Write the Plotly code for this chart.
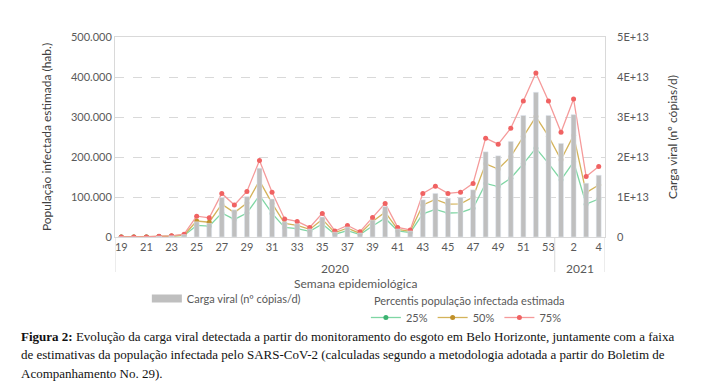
import plotly.graph_objects as go

weeks = [str(w) for w in range(19, 54)] + ["1", "2", "3", "4"]
tick_labels = [str(w) for w in range(19, 54, 2)] + ["2", "4"]

p25 = [0, 0, 0, 1000, 2000, 4000, 29000, 27000, 60000, 44000, 60000, 104000, 59000,
       24000, 21000, 14000, 32500, 7000, 16000, 6000, 27500, 47000, 15000, 11000,
       58000, 69000, 60000, 61000, 72000, 134000, 126000, 147000, 183000, 222000,
       184000, 143000, 188000, 82000, 95000]
p50 = [0, 0, 0, 1500, 2500, 5000, 40000, 37000, 82000, 61000, 85000, 141000, 84000,
       34000, 29000, 19000, 44000, 11000, 22000, 9000, 39000, 62000, 19000, 14000,
       80000, 94000, 82000, 83000, 100000, 183000, 170000, 201000, 251000, 301000,
       252000, 193000, 254000, 111000, 130000]
p75 = [0, 0, 0, 2000, 3000, 7000, 52000, 48000, 109000, 80000, 114000, 191000, 112000,
       45000, 39000, 24000, 59000, 15000, 29000, 13000, 49000, 84000, 24000, 17500,
       109000, 127000, 109000, 112000, 134000, 247000, 232000, 272000, 340000, 410000,
       340000, 262000, 345000, 151000, 176000]
carga = [0, 0, 0, 0.02e13, 0.03e13, 0.06e13, 0.38e13, 0.34e13, 0.99e13, 0.68e13, 1.01e13,
         1.72e13, 0.95e13, 0.38e13, 0.33e13, 0.20e13, 0.50e13, 0.12e13, 0.25e13, 0.10e13,
         0.42e13, 0.76e13, 0.20e13, 0.15e13, 0.93e13, 1.09e13, 0.97e13, 0.99e13, 1.18e13,
         2.13e13, 2.03e13, 2.39e13, 3.04e13, 3.62e13, 3.04e13, 2.34e13, 3.06e13,
         1.345e13, 1.545e13]

left_ticks = [0, 100000, 200000, 300000, 400000, 500000]
right_ticks = [0, 1e13, 2e13, 3e13, 4e13, 5e13]
right_tick_text = ["0", "1E+13", "2E+13", "3E+13", "4E+13", "5E+13"]

FONT = "Lato"
TXT = "#595959"

fig = go.Figure()
fig.add_trace(go.Bar(x=weeks, y=carga, yaxis="y2", marker_color="#bfbfbf",
                     width=0.4, showlegend=False, name="Carga viral (nº cópias/d)"))
fig.add_trace(go.Scatter(x=[None], y=[None], mode="lines",
                         line=dict(color="#bfbfbf", width=8),
                         name="Carga viral (nº cópias/d)", legend="legend"))

series = [("25%", p25, "#7fd6a4", "#3cb371"),
          ("50%", p50, "#d4b35a", "#c0902a"),
          ("75%", p75, "#f59a9a", "#f06262")]
for name, vals, lc, mc in series:
    fig.add_trace(go.Scatter(x=weeks, y=vals, mode="lines+markers", name=name,
                             line=dict(color=lc, width=1.3),
                             marker=dict(color=mc, size=5),
                             legend="legend2"))

shapes = []
for xv in [-0.5, 34.5, 38.5]:
    shapes.append(dict(type="line", xref="x", yref="paper", x0=xv, x1=xv,
                       y0=0, y1=-0.175, line=dict(color="#d9d9d9", width=1)))

annotations = [
    dict(text="2020", x=17, y=-0.155, xref="x", yref="paper", showarrow=False,
         yanchor="middle", font=dict(family=FONT, size=12, color=TXT)),
    dict(text="2021", x=36.5, y=-0.155, xref="x", yref="paper", showarrow=False,
         yanchor="middle", font=dict(family=FONT, size=12, color=TXT)),
    dict(text="Semana epidemiológica", x=0.49, y=-0.23, xref="paper", yref="paper",
         yanchor="middle", showarrow=False, font=dict(family=FONT, size=12, color=TXT)),
    dict(text="Percentis população infectada estimada", x=(372 - 115) / 490,
         y=-0.315, xref="paper", yref="paper", xanchor="left", yanchor="middle",
         showarrow=False, font=dict(family=FONT, size=11, color=TXT)),
]
caption = [
    "<b>Figura 2:</b> Evolução da carga viral detectada a partir do monitoramento do esgoto em Belo Horizonte, juntamente com a faixa",
    "de estimativas da população infectada pelo SARS-CoV-2 (calculadas segundo a metodologia adotada a partir do Boletim de",
    "Acompanhamento No. 29).",
]
for i, line in enumerate(caption):
    annotations.append(dict(text=line, x=-0.196, y=-0.495 - i * 0.0925, xref="paper",
                            yref="paper", xanchor="left", yanchor="middle",
                            showarrow=False,
                            font=dict(family="Liberation Serif", size=13, color="#111111")))

fig.update_layout(
    width=702, height=388,
    margin=dict(l=115, r=97, t=37, b=151),
    paper_bgcolor="white", plot_bgcolor="white",
    separators=",.",
    font=dict(family=FONT, size=11, color=TXT),
    shapes=shapes, annotations=annotations,
    xaxis=dict(type="category", tickvals=tick_labels, ticktext=tick_labels,
               range=[-0.5, 38.5], showline=True, linecolor="#d9d9d9", mirror=True,
               showgrid=False, ticks="", tickfont=dict(size=11, color=TXT)),
    yaxis=dict(range=[0, 500000], tickvals=left_ticks, tickformat=",d",
               showgrid=True, gridcolor="#d9d9d9", griddash="dash",
               showline=True, linecolor="#d9d9d9", mirror=True, zeroline=False,
               title=dict(text="População infectada estimada (hab.)",
                          font=dict(size=12, color="#404040"), standoff=16),
               tickfont=dict(size=11, color=TXT)),
    yaxis2=dict(range=[0, 5e13], overlaying="y", side="right", tickvals=right_ticks,
                ticktext=right_tick_text, showgrid=False, zeroline=False,
                ticklabelstandoff=11,
                title=dict(text="Carga viral (nº cópias/d)",
                           font=dict(size=12, color="#404040"), standoff=20),
                tickfont=dict(size=11, color=TXT)),
    legend=dict(x=0.065, y=-0.235, xanchor="left", yanchor="top", orientation="h",
                font=dict(size=11, color=TXT), bgcolor="rgba(0,0,0,0)",
                itemwidth=30),
    legend2=dict(x=0.512, y=-0.33, xanchor="left", yanchor="top", orientation="h",
                 font=dict(size=11, color=TXT), bgcolor="rgba(0,0,0,0)",
                 itemwidth=30, tracegroupgap=0),
)

fig.write_html("out.html", config={"displayModeBar": False},
               post_script="document.body.style.margin='0px';")
